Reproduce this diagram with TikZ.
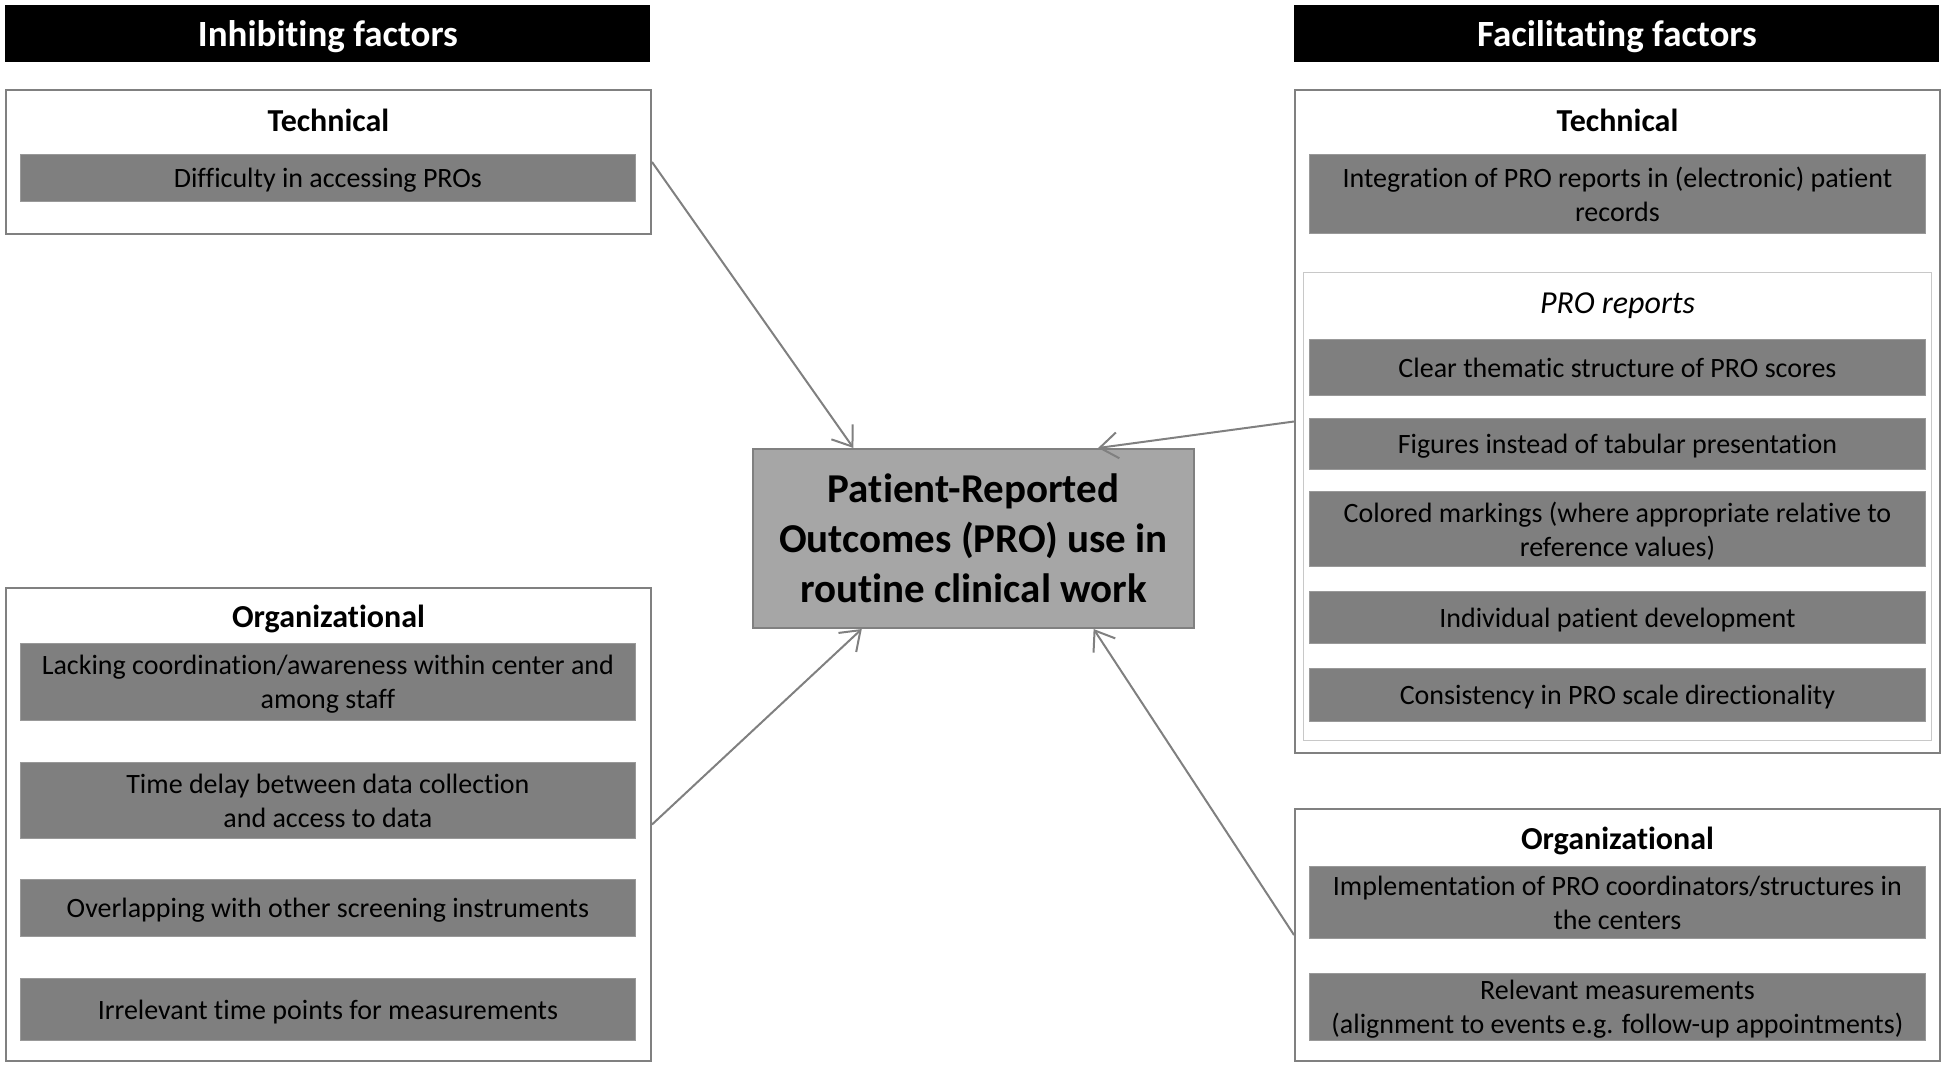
\documentclass[tikz,border=0pt]{standalone}
\usepackage{fontspec}
\setmainfont{Carlito}[Ligatures=CommonOff, Contextuals=AlternateOff]
\usetikzlibrary{arrows.meta,positioning}

\definecolor{barGray}{RGB}{127,127,127}
\definecolor{coreGray}{RGB}{166,166,166}
\definecolor{lineGray}{RGB}{128,128,128}
\definecolor{innerGray}{RGB}{200,200,200}

\tikzset{
  header/.style={anchor=north west, fill=black, text=white, inner sep=0pt,
    minimum width=322.5pt, minimum height=28.5pt, text depth=0pt,
    font=\bfseries\fontsize{18.5}{22}\selectfont},
  group/.style={anchor=north west, draw=lineGray, line width=1pt, fill=white,
    inner sep=0pt, minimum width=322.5pt},
  subtitle/.style={text depth=0pt, font=\bfseries\fontsize{16}{19}\selectfont},
  bar/.style={anchor=north west, fill=barGray, draw=barGray!80!white, line width=0.4pt,
    inner sep=0pt, align=center, text depth=0pt, font=\fontsize{14}{17}\selectfont},
  core/.style={anchor=north west, fill=coreGray, draw=lineGray, line width=1pt,
    inner sep=0pt, align=center, minimum width=220.5pt, minimum height=89.5pt,
    font=\bfseries\fontsize{20.5}{25}\selectfont},
  link/.style={->, draw=lineGray, line width=1pt},
}

\begin{document}
\begin{tikzpicture}[x=0.5pt, y=-0.5pt, >={Straight Barb[length=9pt,width=13pt]}]

  \useasboundingbox (0,0) rectangle (1946,1064);

  % Headers
  \node[header] (inhib) at (5,5) {Inhibiting factors};
  \node[header] (facil) at (1294,5) {Facilitating factors};

  % Inhibiting: technical
  \node[group, minimum height=72pt] (ltech) at (5,89) {};
  \node[subtitle] (ltechT) at ([yshift=-15.5pt]ltech.north) {Technical};
  \node[bar, minimum width=307.5pt, minimum height=23.5pt] (diff) at (20,154) {Difficulty in accessing PROs};

  % Inhibiting: organizational
  \node[group, minimum height=236.5pt] (lorg) at (5,587) {};
  \node[subtitle] (lorgT) at ([yshift=-14.5pt]lorg.north) {Organizational};
  \node[bar, minimum width=307.5pt, minimum height=38.5pt] (lack) at (20,643)
    {Lacking coordination/awareness within center and\\among staff};
  \node[bar, minimum width=307.5pt, minimum height=38pt] (delay) at (20,762)
    {Time delay between data collection\\and access to data};
  \node[bar, minimum width=307.5pt, minimum height=28.5pt] (overlap) at (20,879)
    {Overlapping with other screening instruments};
  \node[bar, minimum width=307.5pt, minimum height=31pt] (irrel) at (20,978)
    {Irrelevant time points for measurements};

  % Facilitating: technical
  \node[group, minimum height=331.5pt] (rtech) at (1294,89) {};
  \node[subtitle] (rtechT) at ([yshift=-15.5pt]rtech.north) {Technical};
  \node[bar, minimum width=308pt, minimum height=39.5pt] (integ) at (1309,154)
    {Integration of PRO reports in (electronic) patient\\records};

  % PRO reports
  \node[anchor=north west, draw=innerGray, line width=0.6pt, inner sep=0pt,
    minimum width=314pt, minimum height=234pt] (prorep) at (1303,272) {};
  \node[text depth=0pt, font=\itshape\fontsize{16}{19}\selectfont] (prorepT) at ([yshift=-15.5pt]prorep.north) {PRO reports};
  \node[bar, minimum width=308pt, minimum height=28pt] (clear) at (1309,339)
    {Clear thematic structure of PRO scores};
  \node[bar, minimum width=308pt, minimum height=25.5pt] (figs) at (1309,418)
    {Figures instead of tabular presentation};
  \node[bar, minimum width=308pt, minimum height=37.5pt] (colmark) at (1309,491)
    {Colored markings (where appropriate relative to\\reference values)};
  \node[bar, minimum width=308pt, minimum height=26pt] (indiv) at (1309,591)
    {Individual patient development};
  \node[bar, minimum width=308pt, minimum height=26.5pt] (consist) at (1309,668)
    {Consistency in PRO scale directionality};

  % Facilitating: organizational
  \node[group, minimum height=126pt] (rorg) at (1294,808) {};
  \node[subtitle] (rorgT) at ([yshift=-15pt]rorg.north) {Organizational};
  \node[bar, minimum width=308pt, minimum height=36pt] (impl) at (1309,866)
    {Implementation of PRO coordinators/structures in\\the centers};
  \node[bar, minimum width=308pt, minimum height=33.5pt] (relev) at (1309,973)
    {Relevant measurements\\(alignment to events e.g. follow-up appointments)};

  % Center
  \node[core] (core) at (752,448) {Patient-Reported\\Outcomes (PRO) use in\\routine clinical work};

  % Links
  \draw[link] (ltech.east) -- (core.143);
  \draw[link] (lorg.east) -- (core.219);
  \draw[link] (rtech.west) -- (core.36);
  \draw[link] (rorg.west) -- (core.-37);

\end{tikzpicture}
\end{document}
